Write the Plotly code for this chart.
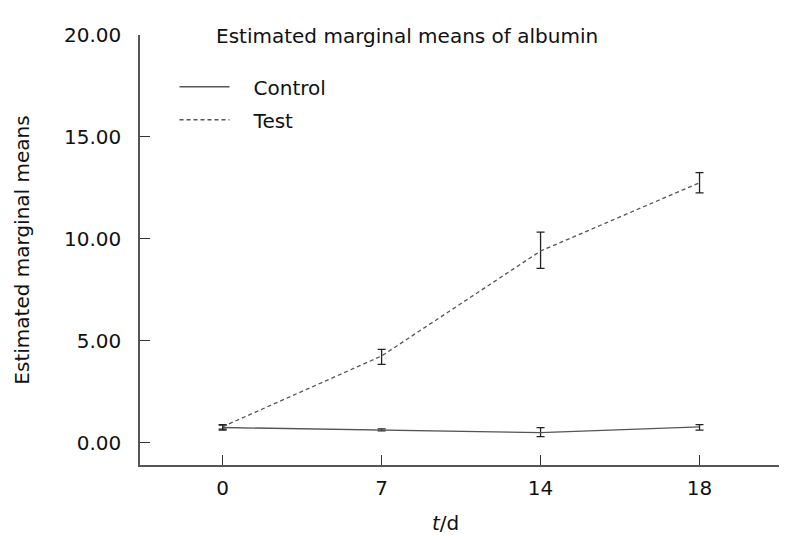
import plotly.graph_objects as go

# days (categorical positions on the x axis)
days = ["0", "7", "14", "18"]

# estimated marginal means of albumin, with error bar ends
control_mean = [0.74, 0.62, 0.49, 0.77]
control_hi = [0.86, 0.67, 0.73, 0.88]
control_lo = [0.61, 0.57, 0.29, 0.61]

test_mean = [0.78, 4.25, 9.40, 12.75]
test_hi = [0.88, 4.57, 10.33, 13.25]
test_lo = [0.66, 3.84, 8.55, 12.25]

y_ticks = [0, 5, 10, 15, 20]
y_tick_text = ["0.00", "5.00", "10.00", "15.00", "20.00"]

FONT = "DejaVu Sans"
PAD = "\u00a0\u00a0\u00a0"  # extra room between legend key and label


def err(mean, hi, lo):
    return dict(
        type="data",
        symmetric=False,
        array=[h - m for h, m in zip(hi, mean)],
        arrayminus=[m - l for m, l in zip(mean, lo)],
        color="#222222",
        thickness=1.3,
        width=4,
    )


fig = go.Figure()

fig.add_trace(go.Scatter(
    x=days, y=control_mean, name=PAD + "Control", mode="lines",
    line=dict(color="#555555", width=1.3),
    error_y=err(control_mean, control_hi, control_lo),
    legendgroup="c",
))
fig.add_trace(go.Scatter(
    x=days, y=test_mean, name=PAD + "Test", mode="lines",
    line=dict(color="#555555", width=1.3, dash="4px,3px"),
    error_y=err(test_mean, test_hi, test_lo),
    legendgroup="t",
))

fig.update_layout(
    width=787, height=536,
    margin=dict(l=132, r=16, t=27, b=79),
    plot_bgcolor="white", paper_bgcolor="white",
    font=dict(family=FONT, size=20, color="#111111"),
    showlegend=True,
    legend=dict(
        x=0.054, y=0.925, xanchor="left", yanchor="top",
        bgcolor="rgba(0,0,0,0)", font=dict(size=20),
        itemwidth=50, tracegroupgap=4,
    ),
    annotations=[
        dict(
            text="Estimated marginal means of albumin",
            xref="paper", yref="paper", x=0.116, y=0.997,
            xanchor="left", yanchor="middle", showarrow=False,
            font=dict(size=20),
        ),
        dict(
            text="<i>t</i>/d",
            xref="paper", yref="paper", x=0.478, y=-0.134,
            xanchor="center", yanchor="middle", showarrow=False,
            font=dict(size=20),
        ),
    ],
)

fig.update_xaxes(
    type="category", range=[-0.52, 3.5],
    showline=True, linecolor="#555555", linewidth=1.5,
    ticks="inside", ticklen=10, tickcolor="#333333", tickwidth=1,
    showgrid=False, zeroline=False, ticklabelstandoff=4,
)
fig.update_yaxes(
    range=[-1.1, 20],
    tickvals=y_ticks, ticktext=y_tick_text,
    showline=True, linecolor="#555555", linewidth=1.5,
    ticks="inside", ticklen=10, tickcolor="#333333", tickwidth=1,
    showgrid=False, zeroline=False, ticklabelstandoff=13,
    title=dict(text="Estimated marginal means", standoff=29,
               font=dict(size=20)),
)

fig.write_html("out.html")
